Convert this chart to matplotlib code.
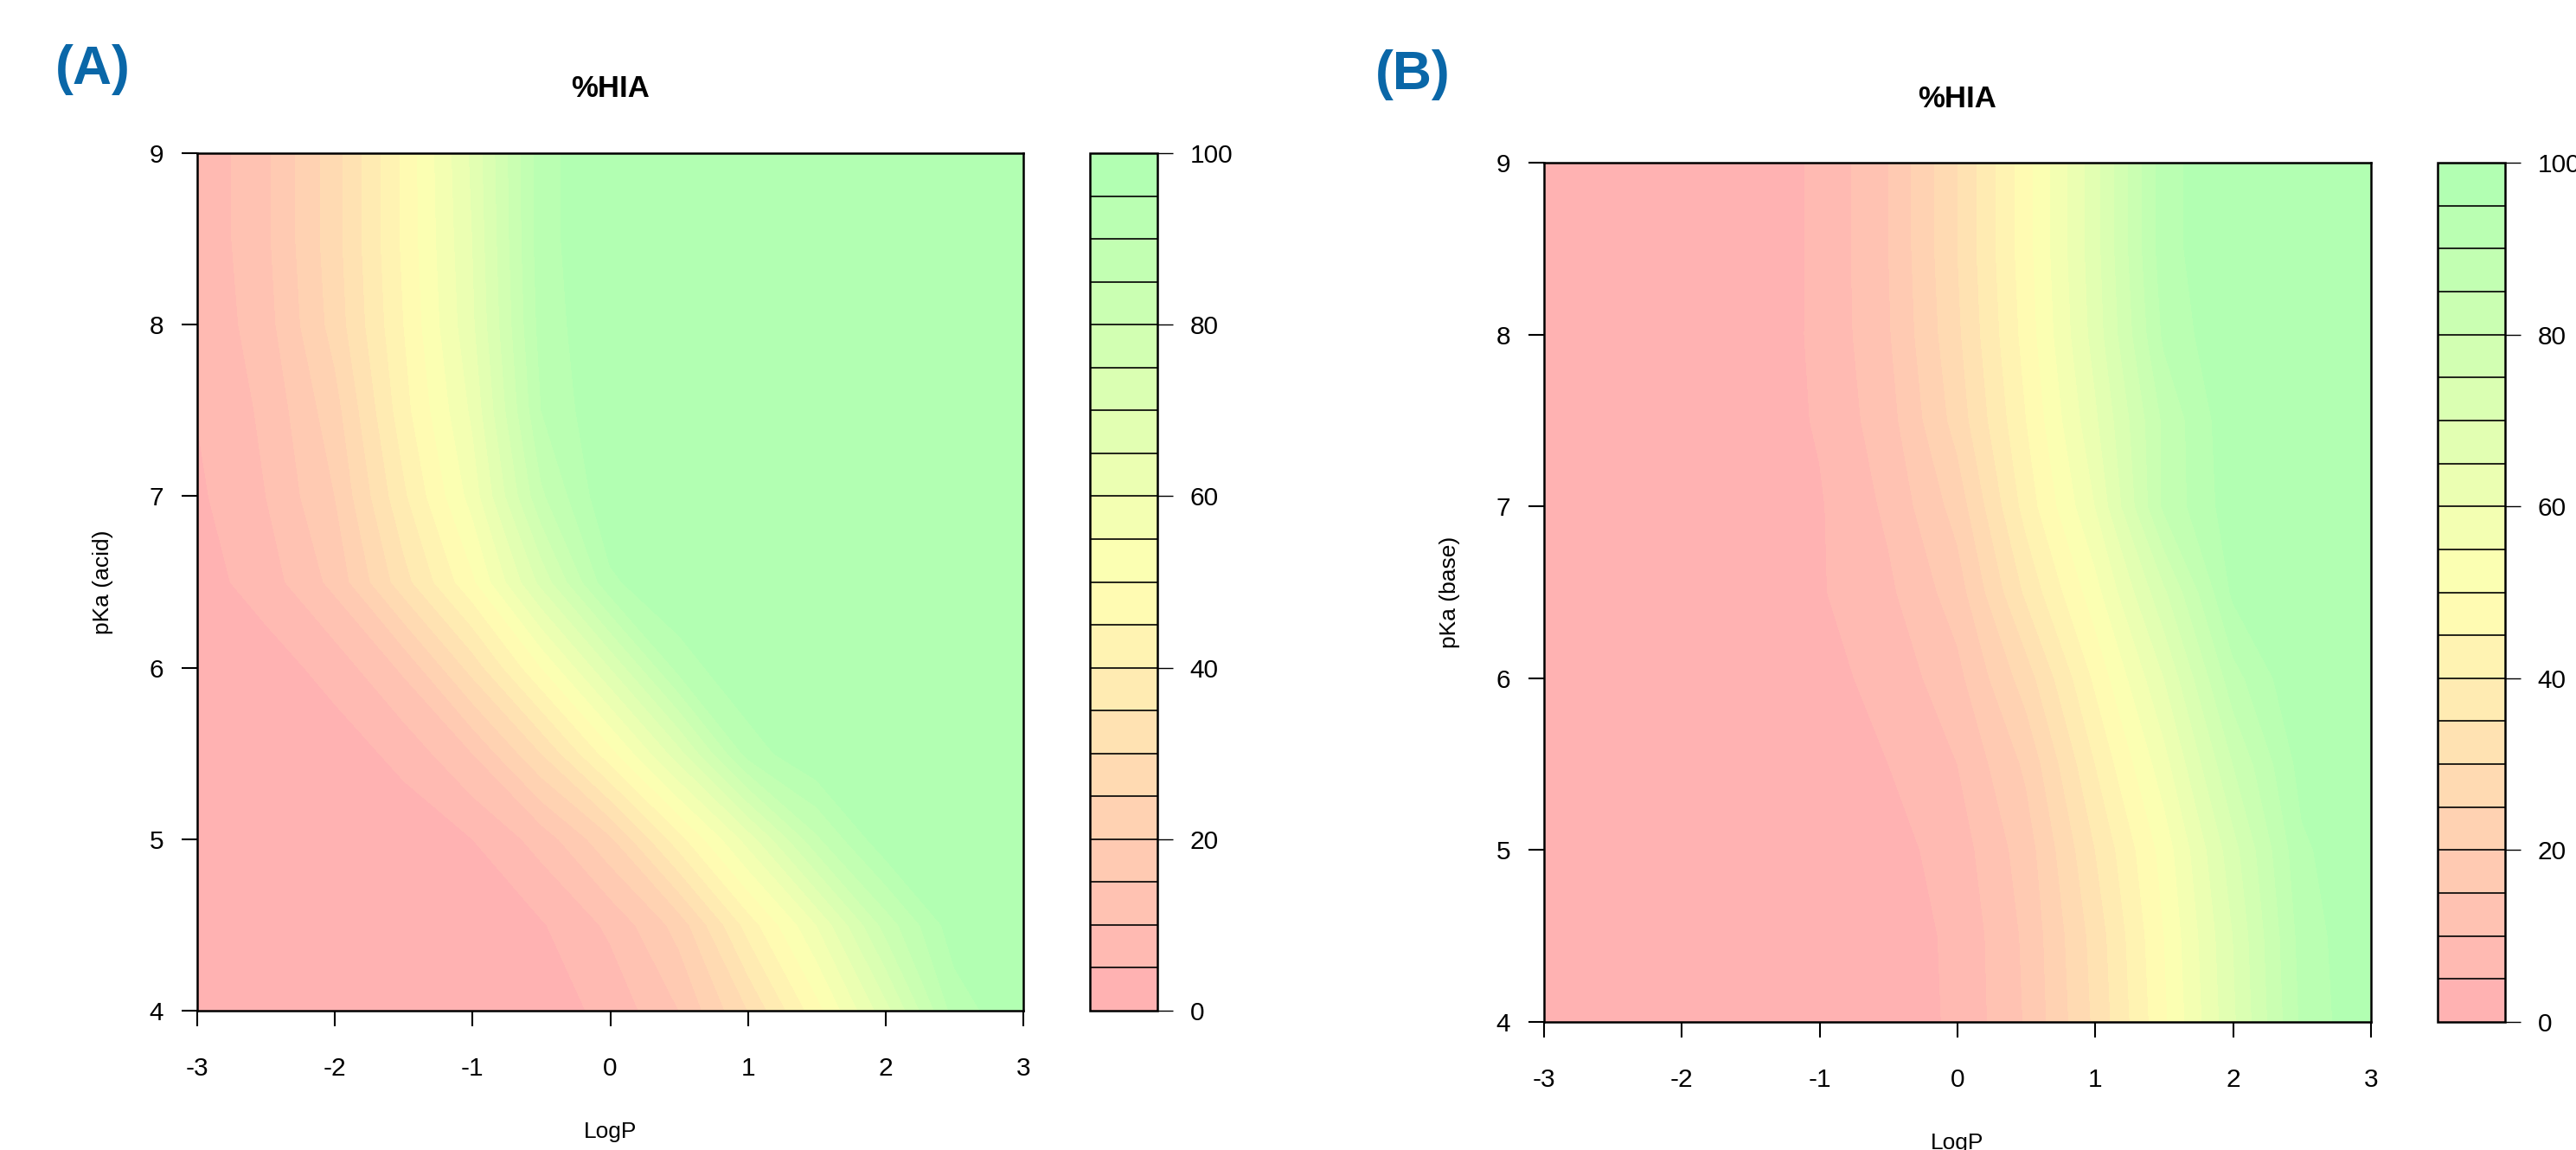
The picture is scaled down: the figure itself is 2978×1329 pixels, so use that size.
import matplotlib
matplotlib.use("Agg")
import matplotlib.pyplot as plt
from matplotlib.colors import LinearSegmentedColormap
import numpy as np

plt.rcParams['font.family'] = ['Liberation Sans', 'DejaVu Sans']
plt.rcParams['axes.unicode_minus'] = False

# grid of the surface
logp = [-3, -2.5, -2, -1.5, -1, -0.5, 0, 0.5, 1, 1.5, 2, 2.5, 3]
pka = [4, 4.5, 5, 5.5, 6, 6.5, 7, 7.5, 8, 8.5, 9]

# %HIA, rows = pKa (4 -> 9), columns = LogP (-3 -> 3)
hia_acid = [
    [0, 0, 0, 0, 1, 2.3, 6.5, 15, 30, 48, 68, 92, 100],
    [0, 0, 0, 0.5, 1.6, 4.5, 11, 22, 42, 60, 82, 98, 100],
    [0, 0, 0.8, 1.8, 5, 12, 24, 43, 62, 84, 99, 100, 100],
    [0, 1, 2.3, 6.5, 15, 30, 48, 68, 92, 100, 100, 100, 100],
    [1, 2.5, 7, 16, 32, 50, 70, 92, 100, 100, 100, 100, 100],
    [2.7, 7.5, 16.5, 33, 49, 71.5, 94, 100, 100, 100, 100, 100, 100],
    [4, 10, 20, 39, 57, 84, 99.5, 100, 100, 100, 100, 100, 100],
    [5.2, 11, 23, 43, 61, 90, 100, 100, 100, 100, 100, 100, 100],
    [5.5, 13, 27, 45, 64, 92, 100, 100, 100, 100, 100, 100, 100],
    [6, 14, 28, 46, 65, 93, 100, 100, 100, 100, 100, 100, 100],
    [6, 14, 28, 46, 66, 93, 100, 100, 100, 100, 100, 100, 100],
]

hia_base = [
    [0, 0, 0, 0, 1, 2.4, 5.8, 15.5, 31, 49, 69, 91, 100],
    [0, 0, 0, 0, 1, 2.5, 6, 16, 32, 50, 70, 92, 100],
    [0, 0, 0, 0, 1.2, 2.9, 7.5, 17.5, 35, 52, 73, 94, 100],
    [0, 0, 0, 0.5, 1.6, 5, 10, 21, 40, 58, 80, 97, 100],
    [0, 0, 0.3, 0.9, 3.5, 6.5, 13.5, 27.5, 46, 65, 88, 100, 100],
    [0, 0, 0.5, 1.3, 4.5, 9, 17.5, 36, 53, 74, 96, 100, 100],
    [0, 0, 0.7, 1.7, 4.5, 11, 22, 42, 60, 86, 98, 100, 100],
    [0, 0, 0.9, 2, 5.5, 13, 27, 45, 64, 86, 99, 100, 100],
    [0, 0, 1, 2.2, 5.8, 14.5, 29, 47, 67, 91, 100, 100, 100],
    [0, 0, 1, 2, 5.8, 15, 30, 48, 68, 93, 100, 100, 100],
    [0, 0, 1, 2, 5.8, 15, 30, 48, 68, 93, 100, 100, 100],
]

levels = list(range(0, 105, 5))
cbar_ticks = [0, 20, 40, 60, 80, 100]

W, H = 2978, 1329
fig = plt.figure(figsize=(W / 100, H / 100), dpi=100)


def box(x0, y0, x1, y1):
    # pixel box (top-left origin) -> figure fraction
    return [x0 / W, 1 - y1 / H, (x1 - x0) / W, (y1 - y0) / H]


ramp = LinearSegmentedColormap.from_list('hia', ['#FFB2B2', '#FFFFB2', '#B2FFB2'])
band_colors = [ramp(i / (len(levels) - 2)) for i in range(len(levels) - 1)]


def panel(plot_box, cbar_box, z, ylab, tag, tag_xy, title_xy):
    ax = fig.add_axes(box(*plot_box))
    cs = ax.contourf(logp, pka, np.array(z), levels=levels, colors=band_colors)
    ax.set_xlim(-3, 3)
    ax.set_ylim(4, 9)
    ax.set_xticks(range(-3, 4))
    ax.set_yticks(range(4, 10))
    for s in ax.spines.values():
        s.set_linewidth(1.8)
    ax.tick_params(axis='both', length=13, width=1.5, labelsize=21.5)
    ax.tick_params(axis='x', pad=25)
    ax.tick_params(axis='y', pad=15)
    ax.set_xlabel('LogP', fontsize=19, labelpad=34)
    ax.set_ylabel(ylab, fontsize=19, labelpad=30)

    cax = fig.add_axes(box(*cbar_box))
    cb = fig.colorbar(cs, cax=cax, ticks=cbar_ticks, drawedges=True)
    cb.outline.set_linewidth(1.8)
    cb.dividers.set_color('black')
    cb.dividers.set_linewidth(1.2)
    cax.tick_params(length=13, width=1, pad=14, labelsize=21.5)

    fig.text(title_xy[0] / W, 1 - title_xy[1] / H, '%HIA', fontsize=25,
             fontweight='bold', ha='center', va='center')
    fig.text(tag_xy[0] / W, 1 - tag_xy[1] / H, tag, fontsize=45,
             fontweight='bold', color='#0A67A8', ha='center', va='center')


panel((228, 177, 1183, 1168), (1260, 177, 1338, 1168), hia_acid,
      'pKa (acid)', '(A)', (107, 80), (706, 103))
panel((1785, 188, 2741, 1181), (2818, 188, 2896, 1181), hia_base,
      'pKa (base)', '(B)', (1633, 87), (2263, 114))

fig.savefig('out.png', dpi=100)
